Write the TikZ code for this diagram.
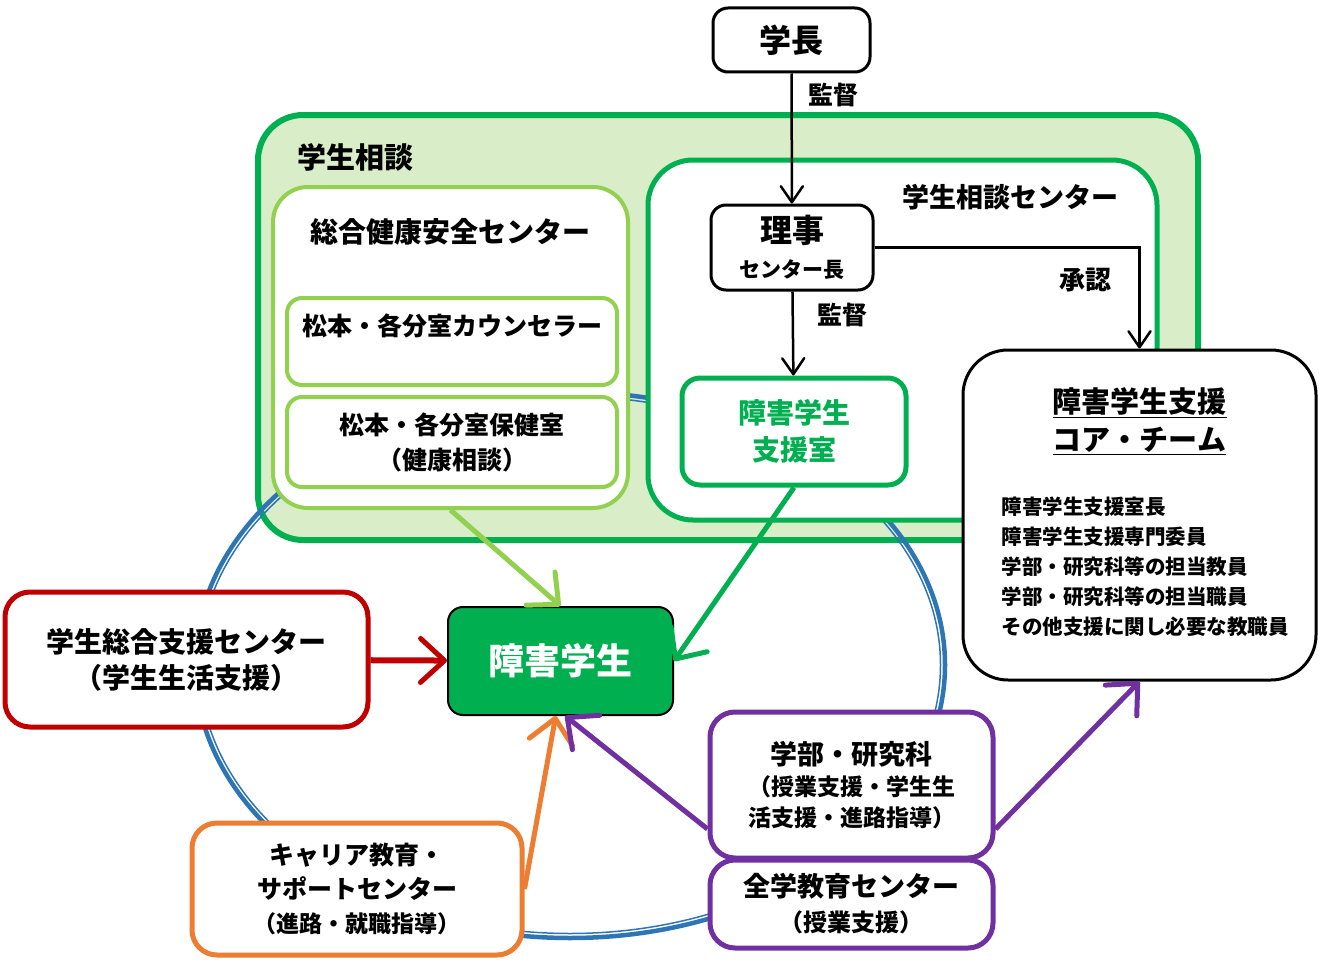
\documentclass[tikz,border=0pt]{standalone}
\usepackage{fontspec}
\setmainfont{Noto Sans CJK JP}
\usepackage{xcolor}
\usepackage{tikz}
\usetikzlibrary{shapes,arrows.meta}
\definecolor{sgreen}{RGB}{0,176,80}
\definecolor{lgreen}{RGB}{146,208,80}
\definecolor{bggreen}{RGB}{216,237,200}
\definecolor{sred}{RGB}{192,0,0}
\definecolor{sorange}{RGB}{237,125,49}
\definecolor{spurple}{RGB}{112,48,160}
\definecolor{sblue}{RGB}{46,117,182}
\newcommand{\fsz}[2]{\fontsize{#1}{#2}\selectfont}
\tikzstyle{block} = [rectangle, draw, fill=white, align=center, inner sep=0pt]
\tikzstyle{line} = [draw, line width=2.5pt, -{Straight Barb[round,length=16pt,width=22pt,line width=2.5pt]}]
\tikzstyle{bold line} = [draw, line width=5pt, -{Straight Barb[round,length=24pt,width=44pt,line width=5pt]}]

\begin{document}
\begin{tikzpicture}[x=1pt,y=-1pt]
\useasboundingbox (0,0) rectangle (1320,966);
\node [block, draw=sgreen, fill=bggreen, line width=6pt, rounded corners=45pt, minimum width=940pt, minimum height=425pt] (soudan) at (728,327.5) {};
\node [font=\bfseries\fsz{29}{29}] (soudan-t) at (355,157) {学生相談};
\draw [sblue, line width=4.5pt] (570,665) ellipse [x radius=375pt, y radius=273pt];
\draw [sblue, line width=1.5pt] (570,665) ellipse [x radius=370.5pt, y radius=268.5pt];

\node [block, draw=lgreen, line width=4pt, rounded corners=35pt, minimum width=355pt, minimum height=321pt] (kenko) at (450.5,347.5) {};
\node [font=\bfseries\fsz{28}{28}] (kenko-t) at (450,232) {総合健康安全センター};
\node [block, draw=lgreen, line width=4pt, rounded corners=15pt, minimum width=330pt, minimum height=87pt, font=\bfseries\fsz{25}{33}] (counsel) at (452,341.5) {松本・各分室カウンセラー\\\mbox{}};
\node [block, draw=lgreen, line width=4pt, rounded corners=15pt, minimum width=330pt, minimum height=90pt, font=\bfseries\fsz{25}{35}] (hoken) at (452,442) {松本・各分室保健室\\（健康相談）};

\node [block, draw=sgreen, line width=5pt, rounded corners=45pt, minimum width=509pt, minimum height=360pt] (soudan-ctr) at (902.5,340) {};
\node [font=\bfseries\fsz{27}{27}] (soudan-ctr-t) at (1010,197) {学生相談センター};

\node [block, line width=3pt, rounded corners=15pt, minimum width=157pt, minimum height=64pt, font=\bfseries\fsz{32}{32}] (gakucho) at (791.5,40) {学長};
\node [block, line width=3pt, rounded corners=15pt, minimum width=162pt, minimum height=85pt, font=\bfseries\fsz{32}{35}] (riji) at (792,247.5) {理事\\{\fsz{21}{21}センター長}};
\node [block, draw=sgreen, text=sgreen, line width=5pt, rounded corners=18pt, minimum width=224pt, minimum height=107pt, font=\bfseries\fsz{28}{37}] (shien) at (794,431.5) {障害学生\\支援室};

\node [block, line width=3pt, rounded corners=45pt, minimum width=353pt, minimum height=330pt] (core) at (1139.5,515) {};
\node [align=center, font=\bfseries\fsz{29}{38}] (core-t) at (1139.5,421) {\underline{障害学生支援}\\\underline{コア・チーム}};
\node [align=left, anchor=west, font=\bfseries\fsz{20.5}{30}] (core-m) at (998,566.5) {障害学生支援室長\\障害学生支援専門委員\\学部・研究科等の担当教員\\学部・研究科等の担当職員\\その他支援に関し必要な教職員};

\node [block, fill=sgreen, text=white, line width=2pt, rounded corners=15pt, minimum width=225pt, minimum height=108pt, font=\bfseries\fsz{36}{36}] (student) at (560.5,661) {障害学生};
\node [block, draw=sred, line width=5pt, rounded corners=25pt, minimum width=363pt, minimum height=135pt, font=\bfseries\fsz{28}{36}] (sogo) at (186.5,659.5) {学生総合支援センター\\（学生生活支援）};
\node [block, draw=sorange, line width=5pt, rounded corners=25pt, minimum width=330pt, minimum height=132pt, font=\bfseries\fsz{25}{34}] (career) at (357,889) {キャリア教育・\\サポートセンター\\{\fsz{23}{36}（進路・就職指導）}};
\node [block, draw=spurple, line width=5pt, rounded corners=25pt, minimum width=283pt, minimum height=146pt, font=\bfseries\fsz{27}{31}] (gakubu) at (851.5,785) {学部・研究科\\{\fsz{23}{31}（授業支援・学生生}\\{\fsz{23}{31}活支援・進路指導）}};
\node [block, draw=spurple, line width=5pt, rounded corners=25pt, minimum width=283pt, minimum height=88pt, font=\bfseries\fsz{27}{35}] (zengaku) at (851.5,904) {全学教育センター\\{\fsz{24}{35}（授業支援）}};

\path [line] (gakucho) -- (riji);
\path [line] (riji) -- (shien);
\path [line] (riji.east) -| (core.north);
\node [font=\bfseries\fsz{25}{25}] (kantoku-a) at (833,95) {監督};
\node [font=\bfseries\fsz{25}{25}] (kantoku-b) at (842,315) {監督};
\node [font=\bfseries\fsz{26}{26}] (shonin) at (1085,280) {承認};

\path [bold line, lgreen] (kenko.south) -- (student.north);
\path [bold line, sgreen] (shien.south) -- (student.east);
\path [bold line, sred, line width=6pt] (sogo) -- (student);
\path [bold line, sorange] (career.east) -- (student.265);
\path [bold line, spurple] (gakubu.197) -- (student.275);
\path [bold line, spurple] (gakubu.343) -- (core.south);
\end{tikzpicture}
\end{document}
